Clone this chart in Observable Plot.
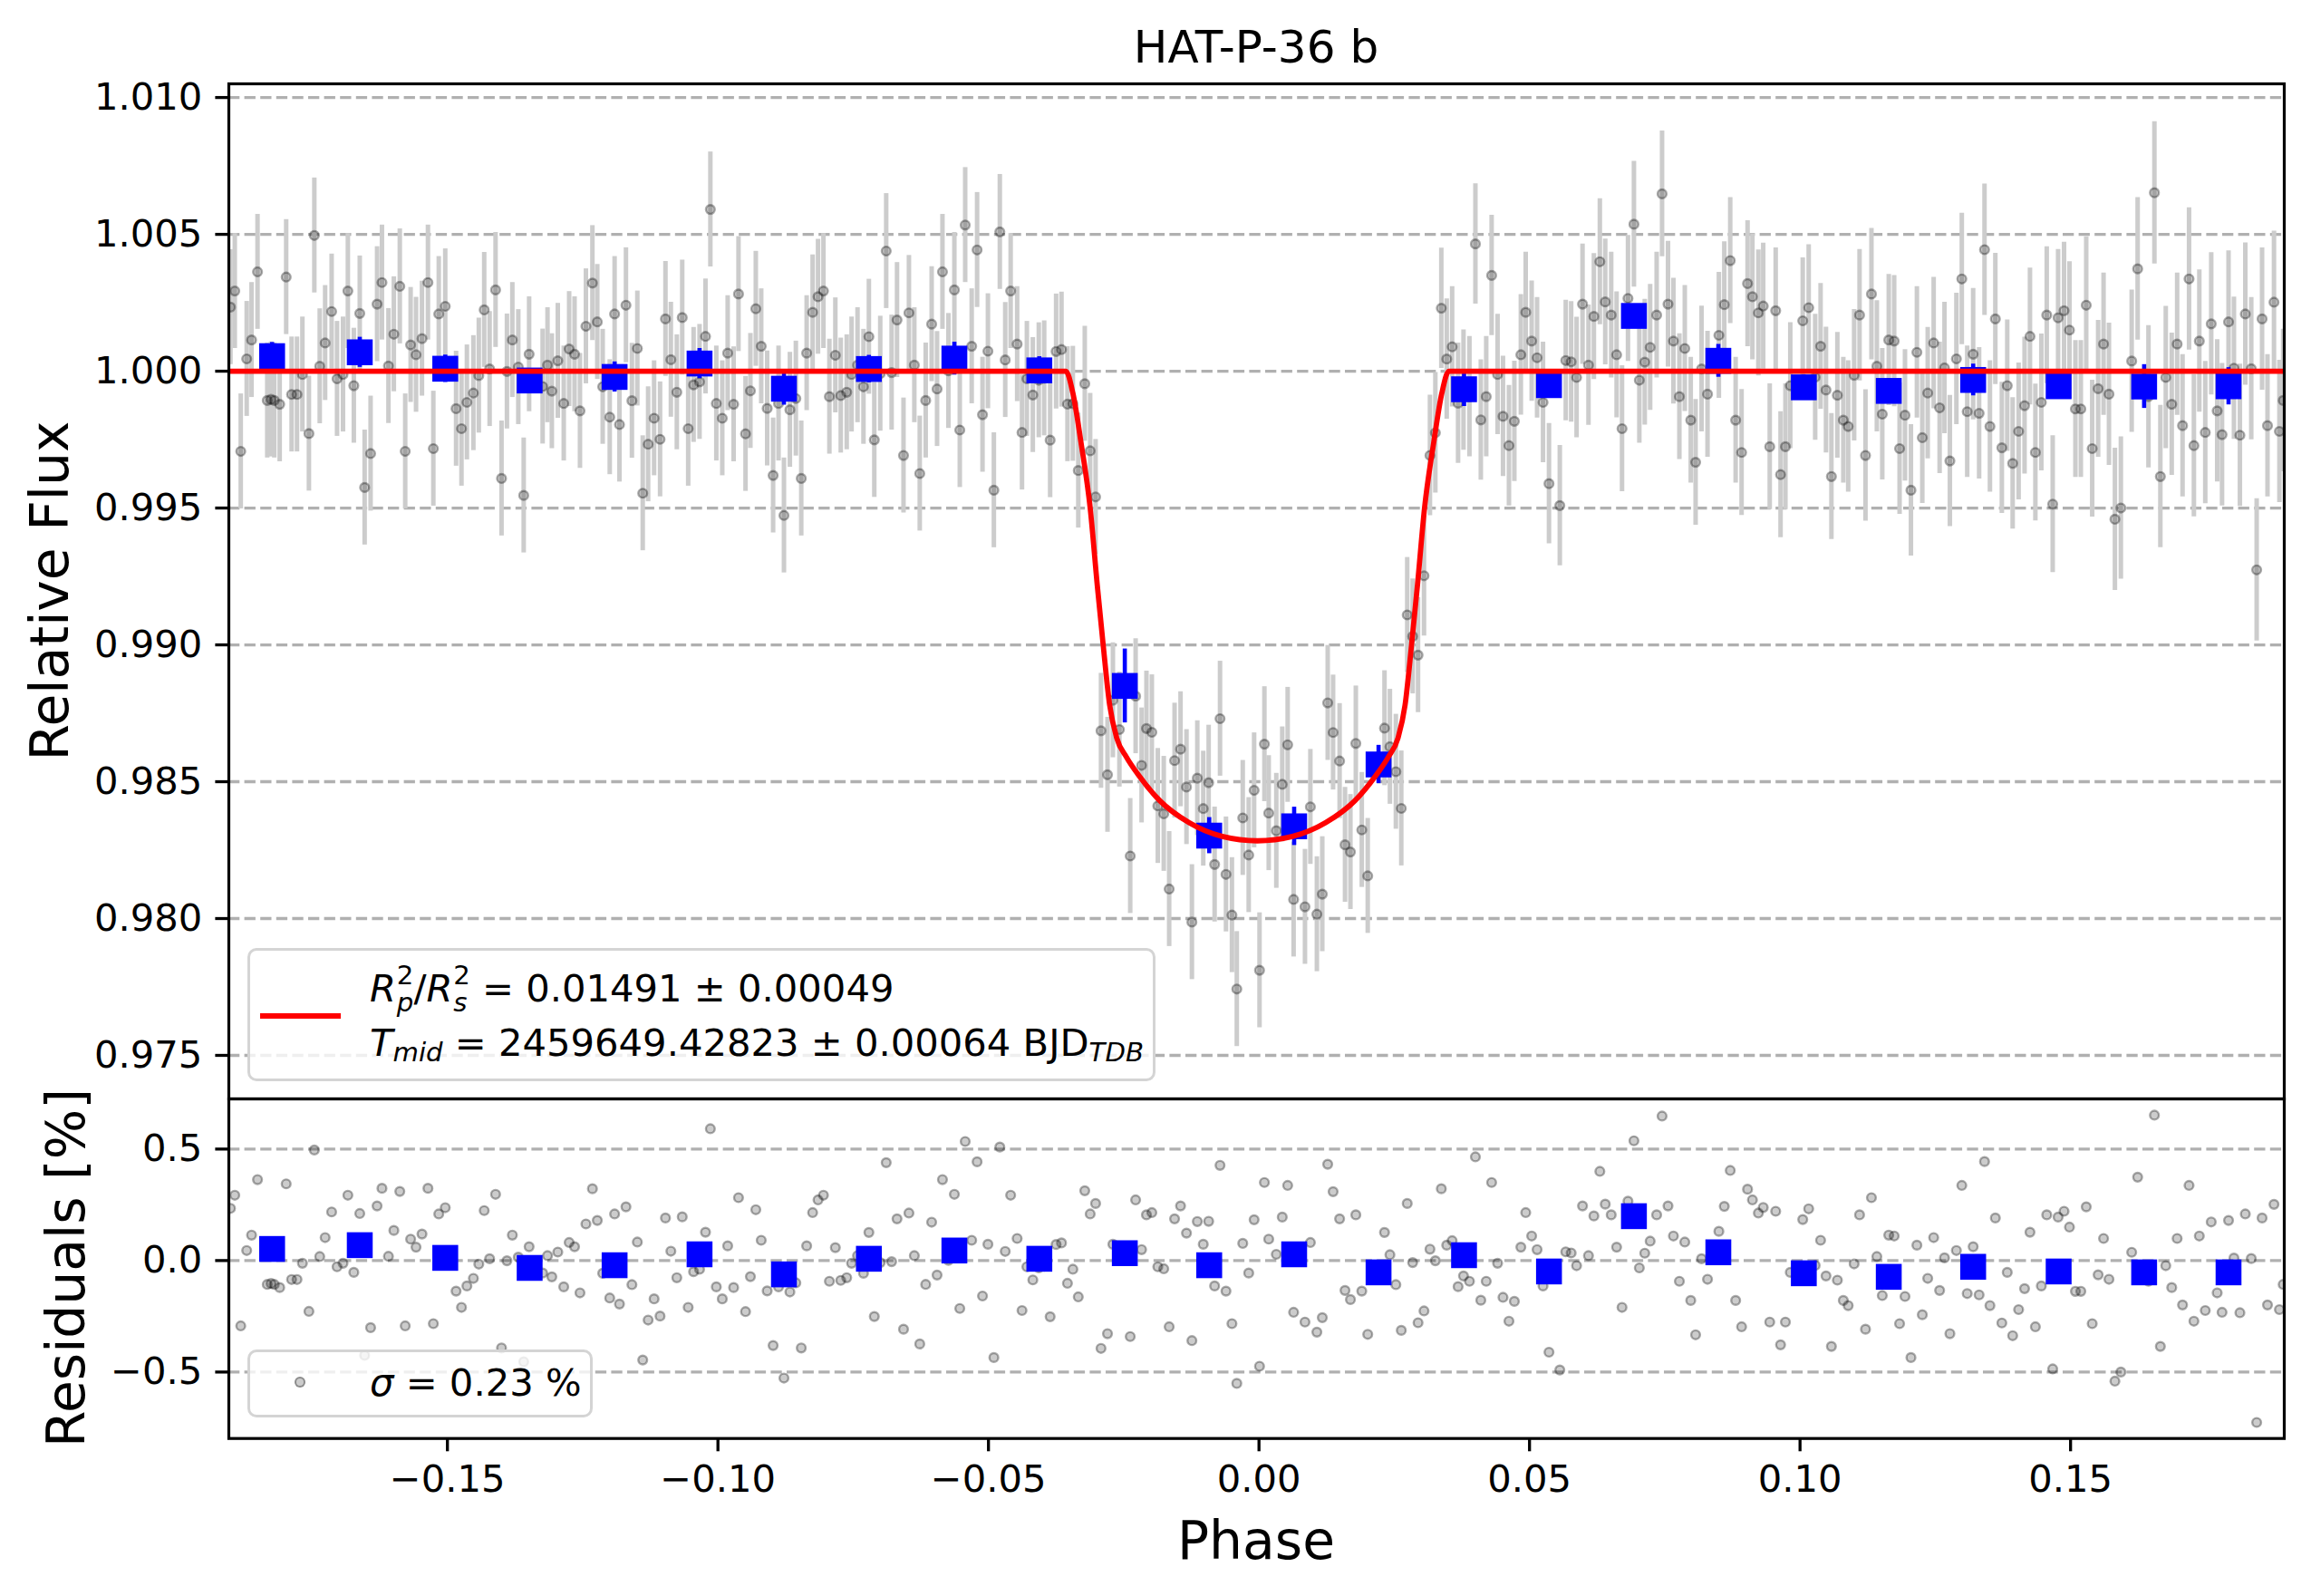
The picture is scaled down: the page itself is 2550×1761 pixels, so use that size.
<!DOCTYPE html>
<html>
<head>
<meta charset="utf-8">
<script src="https://cdn.jsdelivr.net/npm/d3@7"></script>
<script src="https://cdn.jsdelivr.net/npm/@observablehq/plot@0.6"></script>
<style>
  html, body { margin: 0; padding: 0; background: #fff; }
  #fig { position: relative; width: 2550px; height: 1761px; background: #fff; overflow: hidden;
         font-family: "DejaVu Sans", sans-serif; color: #000; }
  #fig svg.plotsvg { position: absolute; left: 0; }
  .legend { position: absolute; box-sizing: border-box; border: 3px solid #d4d4d4; border-radius: 10px;
            background: rgba(255,255,255,0.8); }
  .ltxt { position: absolute; white-space: nowrap; font-size: 41.7px; line-height: 1; font-family: "DejaVu Sans", sans-serif; }
  .st { display: inline-flex; flex-direction: column; position: relative; top: -0.44em; line-height: 1; vertical-align: baseline; margin-left: 0.02em; }
  .st > span { font-size: 0.7em; line-height: 1; }
  .sb { font-size: 0.7em; position: relative; top: 0.2em; }
</style>
</head>
<body>
<div id="fig">
  <svg width="2550" height="1761" style="position:absolute;left:0;top:0;font-family:'DejaVu Sans',sans-serif">
    <text x="1386" y="69.3" text-anchor="middle" font-size="50">HAT-P-36 b</text>
    <text transform="translate(74.6,652) rotate(-90)" text-anchor="middle" font-size="58.3">Relative Flux</text>
    <text transform="translate(93,1399) rotate(-90)" text-anchor="middle" font-size="58.3">Residuals [%]</text>
    <text x="1386" y="1720" text-anchor="middle" font-size="58.3">Phase</text>
  </svg>
</div>
<script>
// ---------------- data ----------------
// grey points: phase and residual (in %)
const phases = [
-0.1901,-0.1893,-0.1882,-0.1871,-0.1862,-0.1851,-0.1833,-0.1826,-0.1820,-0.1810,
-0.1798,-0.1788,-0.1778,-0.1768,-0.1756,-0.1746,-0.1736,-0.1726,-0.1714,-0.1704,
-0.1693,-0.1684,-0.1673,-0.1662,-0.1653,-0.1642,-0.1630,-0.1621,-0.1609,-0.1599,
-0.1588,-0.1578,-0.1568,-0.1558,-0.1547,-0.1536,-0.1526,-0.1516,-0.1504,-0.1484,
-0.1474,-0.1464,-0.1452,-0.1442,-0.1432,-0.1422,-0.1411,-0.1400,-0.1390,-0.1380,
-0.1369,-0.1359,-0.1349,-0.1324,-0.1315,-0.1307,-0.1296,-0.1285,-0.1275,-0.1265,
-0.1255,-0.1244,-0.1232,-0.1223,-0.1213,-0.1200,-0.1191,-0.1182,-0.1170,-0.1159,
-0.1149,-0.1139,-0.1129,-0.1118,-0.1107,-0.1097,-0.1087,-0.1076,-0.1066,-0.1055,
-0.1045,-0.1034,-0.1023,-0.1014,-0.1003,-0.0992,-0.0982,-0.0971,-0.0962,-0.0949,
-0.0940,
-0.0930,-0.0920,-0.0909,-0.0898,-0.0888,-0.0878,-0.0867,-0.0856,-0.0846,-0.0836,
-0.0825,-0.0815,-0.0805,-0.0794,-0.0783,-0.0773,-0.0762,-0.0753,-0.0742,-0.0731,
-0.0721,-0.0711,-0.0700,-0.0689,-0.0679,-0.0669,-0.0657,-0.0647,-0.0637,-0.0627,
-0.0616,-0.0605,-0.0595,-0.0585,-0.0574,-0.0563,-0.0553,-0.0543,-0.0531,-0.0521,
-0.0511,-0.0501,-0.0490,-0.0479,-0.0469,-0.0459,-0.0447,-0.0438,-0.0429,-0.0418,
-0.0407,-0.0397,-0.0386,-0.0375,-0.0365,-0.0354,-0.0344,-0.0334,-0.0322,-0.0312,
-0.0302,-0.0292,-0.0280,-0.0270,-0.0258,-0.0238,-0.0228,-0.0217,-0.0208,-0.0198,
-0.0187,-0.0176,-0.0166,-0.0156,-0.0145,-0.0134,-0.0124,-0.0114,-0.0103,-0.0093,
-0.0082,-0.0072,-0.0061,-0.0050,-0.0041,-0.0030,-0.0019,-0.0009,0.0001,0.0010,
0.0018,
0.0032,0.0043,0.0053,0.0064,0.0085,0.0095,0.0107,0.0117,0.0127,0.0137,
0.0149,0.0159,0.0169,0.0179,0.0190,0.0201,0.0232,0.0242,0.0253,0.0263,
0.0274,0.0284,0.0294,0.0305,0.0316,0.0326,0.0337,0.0347,0.0357,0.0368,
0.0378,0.0389,0.0400,0.0410,0.0420,0.0430,0.0441,0.0451,0.0462,0.0472,
0.0484,0.0493,0.0504,0.0514,0.0525,0.0536,0.0556,0.0567,0.0577,0.0587,
0.0598,0.0609,0.0619,0.0630,0.0640,0.0651,0.0661,0.0671,0.0682,0.0693,
0.0703,0.0713,0.0723,0.0735,0.0745,0.0756,0.0766,0.0777,0.0787,0.0798,
0.0807,0.0818,0.0829,0.0850,0.0860,0.0871,0.0881,0.0892,0.0903,0.0912,
0.0923,0.0932,0.0944,0.0955,0.0964,0.0973,
0.0982,0.1005,0.1016,0.1028,0.1038,0.1048,0.1058,0.1069,0.1080,0.1089,
0.1100,0.1110,0.1121,0.1132,0.1142,0.1152,0.1164,0.1174,0.1184,0.1194,
0.1205,0.1216,0.1226,0.1236,0.1247,0.1258,0.1267,0.1277,0.1289,0.1299,
0.1309,0.1320,0.1331,0.1341,0.1351,0.1361,0.1373,0.1383,0.1393,0.1404,
0.1415,0.1425,0.1435,0.1446,0.1456,0.1467,0.1477,0.1488,0.1498,0.1509,
0.1519,0.1529,0.1540,0.1551,0.1561,0.1571,0.1582,0.1593,0.1613,0.1624,
0.1644,0.1655,0.1666,0.1676,0.1687,0.1697,0.1707,0.1719,0.1728,0.1738,
0.1749,0.1760,0.1771,0.1780,0.1792,0.1802,0.1813,0.1823,0.1834,0.1844,
0.1854,0.1864,0.1876,0.1886,0.1893
];
const residuals = [
0.234,0.293,-0.293,0.045,0.114,0.363,-0.107,-0.103,-0.107,-0.121,
0.344,-0.085,-0.085,-0.012,-0.228,0.496,0.018,0.103,0.218,-0.028,
-0.012,0.293,-0.053,0.211,-0.425,-0.301,0.245,0.324,0.019,0.135,
0.310,-0.293,0.096,0.060,0.119,0.324,-0.283,0.209,0.237,-0.137,
-0.210,-0.114,-0.080,-0.016,0.224,0.008,0.297,-0.392,-0.001,0.114,
0.015,-0.454,0.062,-0.056,0.022,-0.073,0.038,-0.118,0.081,0.062,
-0.145,0.164,0.322,0.180,-0.057,-0.168,0.209,-0.195,0.241,-0.108,
0.083,-0.446,-0.267,-0.172,-0.249,0.191,0.042,-0.077,0.196,-0.210,
-0.050,-0.039,0.127,0.591,-0.118,-0.172,0.066,-0.121,0.282,-0.229,
-0.072,
0.228,0.091,-0.136,-0.381,-0.118,-0.527,-0.141,-0.100,-0.392,0.066,
0.215,0.272,0.293,-0.093,0.058,-0.089,-0.077,-0.012,0.022,-0.057,
0.126,-0.251,-0.009,0.439,-0.005,0.187,-0.308,0.213,0.022,-0.374,
-0.107,0.172,-0.065,0.363,0.001,0.297,-0.215,0.534,0.091,0.443,
-0.159,0.073,-0.435,0.509,0.041,0.293,0.099,-0.224,-0.028,-0.087,
-0.033,-0.026,-0.252,0.072,0.079,-0.102,-0.039,-0.163,0.313,0.209,
0.256,-0.394,-0.328,0.073,0.050,-0.341,0.272,0.049,0.205,0.215,
-0.028,-0.037,-0.297,0.187,0.245,0.123,-0.359,0.175,0.073,0.176,
-0.114,0.427,-0.137,-0.283,-0.551,0.077,-0.056,0.183,-0.474,0.350,
0.096,
0.028,0.195,0.337,-0.232,-0.276,0.081,-0.321,-0.256,0.432,0.309,
0.187,-0.134,-0.175,0.205,-0.137,-0.331,0.126,0.026,-0.108,-0.313,
0.256,-0.009,-0.279,-0.226,0.051,-0.001,0.322,0.069,0.089,-0.117,
-0.069,-0.093,0.465,-0.178,-0.093,0.350,-0.012,-0.165,-0.272,-0.183,
0.060,0.215,0.110,0.049,-0.114,-0.411,-0.491,0.039,0.034,-0.023,
0.245,0.022,0.200,0.400,0.253,0.205,0.060,-0.210,0.266,0.537,
-0.033,0.033,0.087,0.205,0.648,0.245,0.110,-0.093,0.083,-0.179,
-0.333,0.008,-0.084,0.131,0.243,0.404,-0.179,-0.297,0.320,0.272,
0.213,0.238,-0.276,0.221,-0.378,-0.276,
-0.053,0.184,0.232,-0.022,0.091,-0.069,-0.385,-0.088,-0.179,-0.202,
-0.015,0.205,-0.308,0.282,0.018,-0.157,0.114,0.110,-0.283,-0.161,
-0.435,0.069,-0.243,-0.080,0.103,-0.134,0.012,-0.328,0.045,0.337,
-0.148,0.062,-0.154,0.444,-0.202,0.191,-0.280,-0.053,-0.337,-0.220,
-0.126,0.127,-0.297,-0.114,0.205,-0.486,0.195,0.221,0.150,-0.138,
-0.138,0.241,-0.283,-0.064,0.099,-0.084,-0.541,-0.500,0.037,0.374,
-0.093,0.652,-0.385,-0.023,-0.121,0.099,-0.199,0.337,-0.272,0.110,
-0.224,0.173,-0.145,-0.232,0.180,0.011,-0.234,0.209,0.009,-0.726,
0.191,-0.199,0.252,-0.220,-0.107
];

// binned (blue) points
const binPhases = [-0.1824,-0.1662,-0.1504,-0.1348,-0.1191,-0.1034,-0.0878,-0.0721,-0.0563,-0.0406,-0.0248,-0.0092,
                   0.0065,0.0221,0.0379,0.0536,0.0693,0.0849,0.1007,0.1164,0.1320,0.1478,0.1636,0.1792];
const binFlux = [1.00055,1.00069,1.00009,0.99966,0.99979,1.00028,0.99936,1.00008,1.00046,1.00003,0.98850,0.98303,
                 0.98337,0.98563,0.99934,0.99949,1.00202,1.00038,0.99941,0.99928,0.99968,0.99945,0.99944,0.99945];
const binFluxErr = [0.0005,0.00055,0.0005,0.0004,0.00055,0.00055,0.0006,0.0005,0.0006,0.0005,0.00135,0.00066,
                    0.0007,0.0007,0.00063,0.0004,0.0004,0.0006,0.00045,0.00045,0.00058,0.0004,0.0008,0.00068];
const binResid = [0.052,0.069,0.012,-0.033,-0.021,0.028,-0.062,0.008,0.045,0.008,0.033,-0.021,
                  0.028,-0.053,0.024,-0.049,0.199,0.037,-0.057,-0.073,-0.028,-0.049,-0.053,-0.053];
// typical grey-point flux error in each bin
const pointErrByBin = [0.0021,0.0021,0.0021,0.0021,0.0021,0.0021,0.0021,0.0021,0.0021,0.0021,0.0021,0.0021,
                       0.0021,0.0021,0.0022,0.0022,0.0023,0.0023,0.0023,0.0024,0.0024,0.0025,0.0026,0.0026];

// transit model (red line)
const modelPhase = [-0.1904,-0.0357,-0.0344,-0.0329,-0.0312,-0.0299,-0.0288,-0.0276,-0.0263,-0.0245,-0.0221,-0.0183,-0.0129,-0.0068,-0.0003,
                    0.0062,0.0123,0.0177,0.0215,0.0239,0.0257,0.0270,0.0282,0.0293,0.0306,0.0323,0.0338,0.0351,0.1895];
const modelFlux  = [1.0000,1.0000,0.9992,0.9974,0.9950,0.9922,0.9900,0.9878,0.9866,0.9859,0.9852,0.9843,0.9835,0.9830,0.98284,
                    0.9830,0.9835,0.9843,0.9852,0.9859,0.9866,0.9878,0.9900,0.9922,0.9950,0.9974,0.9992,1.0000,1.0000];

// ticks
const fluxTicks = [0.975,0.980,0.985,0.990,0.995,1.000,1.005,1.010];
const residTicks = [-0.5,0.0,0.5];
const phaseTicks = [-0.15,-0.10,-0.05,0.00,0.05,0.10,0.15];

// ---------------- derived tables ----------------
function modelAt(p) {
  const i = d3.bisectRight(modelPhase, p);
  if (i <= 0) return modelFlux[0];
  if (i >= modelPhase.length) return modelFlux[modelPhase.length - 1];
  const t = (p - modelPhase[i - 1]) / (modelPhase[i] - modelPhase[i - 1]);
  return modelFlux[i - 1] + t * (modelFlux[i] - modelFlux[i - 1]);
}
const points = phases.map((p, i) => {
  const f = modelAt(p) + residuals[i] / 100;
  const e = pointErrByBin[d3.leastIndex(binPhases, b => Math.abs(b - p))];
  return {phase: p, resid: residuals[i], flux: f, lo: f - e, hi: f + e};
});
const bins = binPhases.map((p, i) => ({phase: p, flux: binFlux[i], lo: binFlux[i] - binFluxErr[i], hi: binFlux[i] + binFluxErr[i], resid: binResid[i]}));
const model = modelPhase.map((p, i) => ({phase: p, flux: modelFlux[i]}));

const minus = s => s.replace("-", "\u2212");
const gridStyle = {stroke: "#b0b0b0", strokeOpacity: 1, strokeWidth: 3.3, strokeDasharray: "12.3,5.3"};
const dotStyle = {r: 4.9, fill: "black", fillOpacity: 0.2, stroke: "black", strokeOpacity: 0.32, strokeWidth: 2.4};
const svgStyle = {fontFamily: "DejaVu Sans, sans-serif", fontSize: "41.7px", color: "black", background: "transparent", overflow: "visible"};
const xDomain = [-0.1904, 0.1895];

const topPlot = Plot.plot({
  width: 2550, height: 1212,
  marginLeft: 252, marginRight: 30, marginTop: 92, marginBottom: 0,
  style: svgStyle,
  x: {domain: xDomain, axis: null},
  y: {domain: [0.97341, 1.0105]},
  marks: [
    Plot.gridY(fluxTicks, gridStyle),
    Plot.ruleX(points, {x: "phase", y1: "lo", y2: "hi", stroke: "#cccccc", strokeWidth: 5, clip: true}),
    Plot.dot(points, {x: "phase", y: "flux", ...dotStyle, clip: true}),
    Plot.ruleX(bins, {x: "phase", y1: "lo", y2: "hi", stroke: "blue", strokeWidth: 4.6}),
    Plot.dot(bins, {x: "phase", y: "flux", symbol: "square", r: 16.1, fill: "blue"}),
    Plot.line(model, {x: "phase", y: "flux", stroke: "red", strokeWidth: 5.8, curve: "monotone-x", clip: true}),
    Plot.axisY({ticks: fluxTicks, tickSize: 14.6, tickPadding: 14.6, fontSize: 41.7, strokeWidth: 3.3, tickFormat: d => d.toFixed(3), label: null}),
    Plot.frame({stroke: "black", strokeWidth: 3.2})
  ]
});
topPlot.classList.add("plotsvg");
topPlot.style.top = "0px";

const botPlot = Plot.plot({
  width: 2550, height: 549,
  marginLeft: 252, marginRight: 30, marginTop: 0, marginBottom: 174.3,
  style: svgStyle,
  x: {domain: xDomain},
  y: {domain: [-0.798, 0.725]},
  marks: [
    Plot.gridY(residTicks, gridStyle),
    Plot.dot(points, {x: "phase", y: "resid", ...dotStyle, clip: true}),
    Plot.dot(bins, {x: "phase", y: "resid", symbol: "square", r: 16.1, fill: "blue"}),
    Plot.axisY({ticks: residTicks, tickSize: 14.6, tickPadding: 14.6, fontSize: 41.7, strokeWidth: 3.3, tickFormat: d => minus(d.toFixed(1)), label: null}),
    Plot.axisX({ticks: phaseTicks, tickSize: 14.6, tickPadding: 14.6, fontSize: 41.7, strokeWidth: 3.3, tickFormat: d => minus(d.toFixed(2)), label: null}),
    Plot.frame({stroke: "black", strokeWidth: 3.2})
  ]
});
botPlot.classList.add("plotsvg");
botPlot.style.top = "1212px";

const fig = document.getElementById("fig");
fig.appendChild(topPlot);
fig.appendChild(botPlot);

// legends (HTML overlays)
const legendHTML = `
<div class="legend" style="left:273px;top:1046px;width:1002px;height:147px"></div>
<div style="position:absolute;left:287px;top:1117.7px;width:89px;height:6px;background:red"></div>
<div class="ltxt" style="left:408px;top:1069.7px"><i>R</i><span class="st"><span>2</span><span><i>p</i></span></span>/<i>R</i><span class="st"><span>2</span><span><i>s</i></span></span> = 0.01491 ± 0.00049</div>
<div class="ltxt" style="left:408px;top:1129.7px"><i>T</i><span class="sb"><i>mid</i></span> = 2459649.42823 ± 0.00064 BJD<span class="sb"><i>TDB</i></span></div>
<div class="legend" style="left:273px;top:1489px;width:381px;height:75px"></div>
<div style="position:absolute;left:${331.4-6.1}px;top:${1525-6.1}px;width:12.2px;height:12.2px;box-sizing:border-box;border-radius:50%;background:rgba(0,0,0,0.2);border:2.4px solid rgba(0,0,0,0.32)"></div>
<div class="ltxt" style="left:408px;top:1504.7px"><i>σ</i> = 0.23 %</div>
`;
fig.insertAdjacentHTML("beforeend", legendHTML);
</script>
</body>
</html>
